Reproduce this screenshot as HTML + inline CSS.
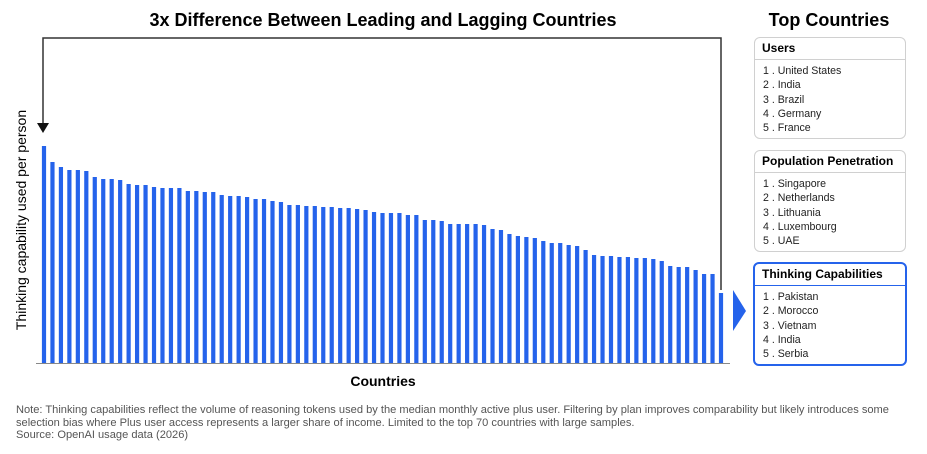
<!DOCTYPE html>
<html><head><meta charset="utf-8"><style>
body{margin:0;width:927px;height:454px;background:#fff;font-family:"Liberation Sans",sans-serif;overflow:hidden;position:relative}
.panel{position:absolute;left:754px;width:150px;border:1px solid #d0d0d0;border-radius:6px;background:#fff}
.panel.sel{border:2px solid #2563eb;left:753px}
.ph{font-weight:bold;font-size:12px;padding:3px 7px;border-bottom:1px solid #d0d0d0;height:15px}
.panel ol{margin:0;padding:4px 8px;list-style:none;font-size:10.6px;color:#222;line-height:14.3px}
.note{position:absolute;left:16px;top:404px;font-size:11.1px;color:#555;line-height:12.6px;width:910px;white-space:nowrap}
</style></head><body>
<svg width="927" height="454" style="position:absolute;left:0;top:0">
<text x="383" y="26" text-anchor="middle" font-size="18" font-weight="bold" font-family="Liberation Sans">3x Difference Between Leading and Lagging Countries</text>
<text x="26" y="220" text-anchor="middle" font-size="14" transform="rotate(-90 26 220)" font-family="Liberation Sans">Thinking capability used per person</text>
<text x="383" y="386" text-anchor="middle" font-size="14" font-weight="bold" font-family="Liberation Sans">Countries</text>
<path d="M43 124 V38 H721 V290" fill="none" stroke="#333" stroke-width="1.5"/>
<polygon points="37,123 49,123 43,133" fill="#111"/>
<polygon points="733,290 746,311 733,331" fill="#2563eb"/>
<g id="bars"></g>
<line x1="36" x2="730" y1="363.5" y2="363.5" stroke="#888" stroke-width="1"/>
</svg>
<div style="position:absolute;left:754px;top:10px;width:150px;text-align:center;font-weight:bold;font-size:18px">Top Countries</div>
<div class="panel" style="top:37px;height:100px"><div class="ph">Users</div><ol><li>1 . United States</li><li>2 . India</li><li>3 . Brazil</li><li>4 . Germany</li><li>5 . France</li></ol></div>
<div class="panel" style="top:150px;height:100px"><div class="ph">Population Penetration</div><ol><li>1 . Singapore</li><li>2 . Netherlands</li><li>3 . Lithuania</li><li>4 . Luxembourg</li><li>5 . UAE</li></ol></div>
<div class="panel sel" style="top:262px;height:100px"><div class="ph" style="border-bottom-color:#2563eb">Thinking Capabilities</div><ol><li>1 . Pakistan</li><li>2 . Morocco</li><li>3 . Vietnam</li><li>4 . India</li><li>5 . Serbia</li></ol></div>
<div class="note">Note: Thinking capabilities reflect the volume of reasoning tokens used by the median monthly active plus user. Filtering by plan improves comparability but likely introduces some<br>selection bias where Plus user access represents a larger share of income. Limited to the top 70 countries with large samples.<br>Source: OpenAI usage data (2026)</div>
<script>
const values=[217,201,196,193,193,192,186,184,184,183,179,178,178,176,175,175,175,172,172,171,171,168,167,167,166,164,164,162,161,158,158,157,157,156,156,155,155,154,153,151,150,150,150,148,148,143,143,142,139,139,139,139,138,134,133,129,127,126,125,122,120,120,118,117,113,108,107,107,106,106,105,105,104,102,97,96,96,93,89,89,70];
const yMax=217, baseY=363, topY=146, x0=44, x1=721;
function yScale(v){return baseY-(v/yMax)*(baseY-topY);}
function xScale(i){return x0+i*(x1-x0)/(values.length-1);}
const g=document.getElementById('bars');
values.forEach((v,i)=>{
 const r=document.createElementNS('http://www.w3.org/2000/svg','rect');
 r.setAttribute('x',xScale(i)-2.1);r.setAttribute('width',4.2);
 r.setAttribute('y',yScale(v));r.setAttribute('height',baseY-yScale(v));
 r.setAttribute('fill','#2563eb');
 
 
 g.appendChild(r);
});
</script>
</body></html>
